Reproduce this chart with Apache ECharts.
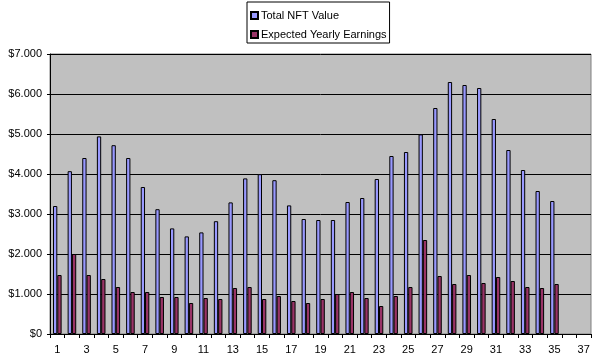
<!DOCTYPE html>
<html>
<head>
<meta charset="utf-8">
<script src="https://cdn.jsdelivr.net/npm/echarts@6/dist/echarts.min.js"></script>
<style>html,body{margin:0;padding:0;background:#fff;}#c{width:602px;height:361px;}</style>
</head>
<body>
<div id="c"></div>
<script>
var categories = ['1','2','3','4','5','6','7','8','9','10','11','12','13','14','15','16','17','18','19','20','21','22','23','24','25','26','27','28','29','30','31','32','33','34','35','36','37'];
var totalNftValue = [3200,4070,4400,4940,4720,4400,3675,3120,2640,2440,2540,2820,3290,3890,3995,3845,3215,2875,2850,2850,3300,3400,3875,4450,4550,4990,5650,6300,6225,6150,5375,4600,4100,3575,3325,null,null];
var expectedYearlyEarnings = [1475,2000,1475,1375,1175,1050,1050,925,925,775,900,875,1150,1175,875,950,825,775,875,1000,1050,900,700,950,1175,2350,1450,1250,1475,1275,1425,1325,1175,1150,1250,null,null];
var yTicks = {0:'$0',1000:'$1.000',2000:'$2.000',3000:'$3.000',4000:'$4.000',5000:'$5.000',6000:'$6.000',7000:'$7.000'};

var chart = echarts.init(document.getElementById('c'), null, {renderer:'canvas'});
var font = 'Arial, "Liberation Sans", sans-serif';
chart.setOption({
  animation: false,
  backgroundColor: '#ffffff',
  textStyle: {fontFamily: font},
  legend: {
    orient: 'vertical',
    left: 247,
    top: 2,
    padding: [8, 3, 3, 3],
    itemGap: 8,
    itemWidth: 7,
    itemHeight: 7,
    borderColor: '#000',
    borderWidth: 1,
    backgroundColor: '#fff',
    textStyle: {fontFamily: font, fontSize: 11, color: '#000', padding: [0,0,0,-2]},
    data: [{name:'Total NFT Value', icon:'rect'}, {name:'Expected Yearly Earnings', icon:'rect'}]
  },
  grid: {
    left: 50, right: 11, top: 54, bottom: 27,
    show: true, backgroundColor: '#C0C0C0', borderColor: '#808080', borderWidth: 1,
    containLabel: false
  },
  xAxis: {
    type: 'category',
    data: categories,
    boundaryGap: true,
    axisLine: {show: true, lineStyle: {color: '#000', width: 1}},
    axisTick: {show: true, interval: 0, alignWithLabel: false, length: 4, lineStyle: {color: '#000'}},
    axisLabel: {interval: 1, color: '#000', fontSize: 11, fontFamily: font, margin: 10}
  },
  yAxis: {
    type: 'value',
    min: 0, max: 7000, interval: 1000,
    axisLine: {show: true, lineStyle: {color: '#000', width: 1}},
    axisTick: {show: true, length: 3, lineStyle: {color: '#000'}},
    splitLine: {show: true, lineStyle: {color: '#000', width: 1}},
    axisLabel: {color: '#000', fontSize: 11, fontFamily: font, margin: 8,
      formatter: function(v){ return yTicks[v] !== undefined ? yTicks[v] : ''; }}
  },
  series: [
    {name: 'Total NFT Value', type: 'bar', data: totalNftValue, barWidth: 4.3, barGap: '0%',
     itemStyle: {color: '#9999FF', borderColor: '#000', borderWidth: 1}},
    {name: 'Expected Yearly Earnings', type: 'bar', data: expectedYearlyEarnings, barWidth: 4.3, barGap: '0%',
     itemStyle: {color: '#993366', borderColor: '#000', borderWidth: 1}}
  ]
});
</script>
</body>
</html>
